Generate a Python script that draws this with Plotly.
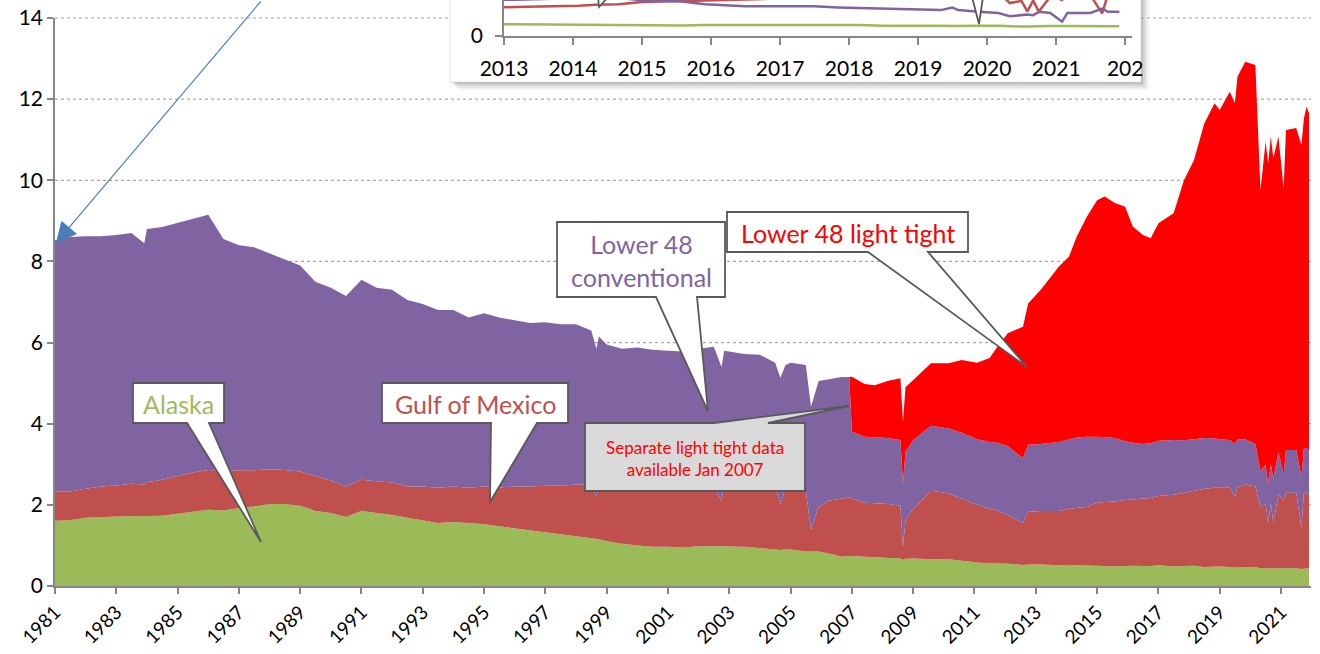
import plotly.graph_objects as go

# ---- data: crude oil production, million barrels per day ----
dates = [
    "1981-01", "1981-07", "1982-01", "1982-07", "1983-01", "1983-07", "1983-12", "1984-01",
    "1984-07", "1985-01", "1985-07", "1986-01", "1986-07", "1987-01", "1987-07", "1988-01",
    "1988-07", "1989-01", "1989-07", "1990-01", "1990-07", "1991-01", "1991-07", "1992-01",
    "1992-07", "1993-01", "1993-07", "1994-01", "1994-07", "1995-01", "1995-07", "1996-01",
    "1996-07", "1997-01", "1997-07", "1998-01", "1998-07", "1998-09", "1998-10", "1999-01",
    "1999-07", "2000-01", "2000-07", "2001-01", "2001-07", "2002-01", "2002-07", "2002-10",
    "2002-11", "2003-07", "2004-01", "2004-07", "2004-09", "2004-11", "2005-01", "2005-07",
    "2005-09", "2005-12", "2006-04", "2006-09", "2006-12",
    "2007-01", "2007-06", "2007-10", "2008-03", "2008-08", "2008-09", "2008-10", "2009-01",
    "2009-08", "2010-03", "2010-08", "2011-02", "2011-07", "2011-10", "2012-02", "2012-08",
    "2012-10", "2013-03", "2013-10", "2014-02", "2014-05", "2014-09", "2015-01", "2015-04",
    "2015-08", "2015-12", "2016-03", "2016-07", "2016-10", "2017-01", "2017-07", "2017-11",
    "2018-03", "2018-07", "2018-11", "2019-01", "2019-05", "2019-07", "2019-08", "2019-11",
    "2020-03", "2020-05", "2020-07", "2020-08", "2020-09", "2020-10", "2020-12", "2021-02",
    "2021-03", "2021-07", "2021-09", "2021-10", "2021-11", "2021-12",
]

alaska = [
    1.61, 1.62, 1.68, 1.70, 1.71, 1.72, 1.72, 1.72,
    1.73, 1.78, 1.83, 1.88, 1.86, 1.92, 1.96, 2.02,
    2.02, 1.98, 1.85, 1.80, 1.70, 1.85, 1.80, 1.75,
    1.68, 1.62, 1.55, 1.58, 1.55, 1.52, 1.47, 1.42,
    1.37, 1.32, 1.28, 1.22, 1.17, 1.16, 1.15, 1.10,
    1.04, 1.00, 0.97, 0.97, 0.95, 0.98, 0.97, 0.97,
    0.98, 0.97, 0.93, 0.90, 0.89, 0.90, 0.90, 0.85,
    0.85, 0.85, 0.80, 0.72, 0.74,
    0.74, 0.72, 0.71, 0.70, 0.68, 0.64, 0.67, 0.68,
    0.66, 0.66, 0.62, 0.58, 0.56, 0.56, 0.55, 0.52,
    0.53, 0.53, 0.51, 0.52, 0.51, 0.50, 0.50, 0.49,
    0.48, 0.50, 0.50, 0.49, 0.49, 0.51, 0.48, 0.49,
    0.50, 0.47, 0.48, 0.48, 0.47, 0.45, 0.46, 0.47,
    0.47, 0.44, 0.43, 0.43, 0.44, 0.44, 0.45, 0.45,
    0.45, 0.44, 0.42, 0.43, 0.44, 0.44,
]

gulf_of_mexico = [
    0.71, 0.71, 0.72, 0.75, 0.77, 0.80, 0.78, 0.84,
    0.89, 0.94, 0.97, 0.98, 0.98, 0.93, 0.89, 0.86,
    0.84, 0.84, 0.87, 0.80, 0.75, 0.77, 0.78, 0.80,
    0.77, 0.83, 0.87, 0.87, 0.87, 0.93, 0.96, 1.03,
    1.08, 1.15, 1.19, 1.28, 1.33, 1.04, 1.33, 1.35,
    1.38, 1.45, 1.51, 1.53, 1.55, 1.52, 1.51, 1.13,
    1.50, 1.48, 1.52, 1.52, 1.13, 1.50, 1.52, 1.50,
    0.53, 1.10, 1.30, 1.43, 1.44,
    1.41, 1.33, 1.33, 1.32, 1.30, 0.33, 0.95, 1.22,
    1.69, 1.62, 1.53, 1.42, 1.34, 1.30, 1.20, 1.03,
    1.30, 1.32, 1.34, 1.38, 1.42, 1.45, 1.55, 1.58,
    1.60, 1.62, 1.63, 1.66, 1.68, 1.71, 1.77, 1.80,
    1.85, 1.93, 1.94, 1.94, 1.95, 1.75, 1.98, 2.03,
    1.98, 1.50, 1.60, 1.12, 1.61, 1.11, 1.80, 1.65,
    1.85, 1.86, 1.03, 1.87, 1.86, 1.80,
]

# all of the Lower 48 before 2007, conventional only from Jan 2007
lower48_conventional = [
    6.20, 6.27, 6.22, 6.17, 6.17, 6.18, 5.95, 6.24,
    6.23, 6.23, 6.25, 6.29, 5.71, 5.55, 5.50, 5.32,
    5.19, 5.08, 4.78, 4.75, 4.70, 4.93, 4.77, 4.75,
    4.60, 4.50, 4.38, 4.35, 4.20, 4.27, 4.19, 4.10,
    4.03, 4.03, 3.98, 3.95, 3.80, 3.65, 3.67, 3.50,
    3.43, 3.43, 3.34, 3.30, 3.28, 3.35, 3.42, 3.30,
    3.32, 3.27, 3.25, 3.08, 3.11, 3.05, 3.08, 3.10,
    3.04, 3.10, 3.00, 3.00, 2.97,
    1.65, 1.63, 1.63, 1.63, 1.62, 1.56, 1.68, 1.70,
    1.60, 1.60, 1.63, 1.62, 1.65, 1.67, 1.70, 1.60,
    1.65, 1.65, 1.70, 1.72, 1.73, 1.73, 1.63, 1.60,
    1.57, 1.45, 1.40, 1.35, 1.35, 1.36, 1.35, 1.30,
    1.27, 1.25, 1.22, 1.20, 1.18, 1.30, 1.18, 1.12,
    1.05, 0.90, 0.95, 0.98, 0.95, 1.10, 1.05, 0.65,
    1.05, 1.05, 1.25, 1.10, 1.10, 1.10,
]

# separate light tight data starts Jan 2007
lower48_light_tight = [
    1.36, 1.30, 1.28, 1.40, 1.52, 1.52, 1.60, 1.48,
    1.54, 1.61, 1.79, 1.88, 2.07, 2.37, 2.78, 3.24,
    3.48, 3.80, 4.32, 4.50, 4.94, 5.42, 5.83, 5.93,
    5.79, 5.78, 5.33, 5.15, 5.05, 5.36, 5.59, 6.41,
    6.88, 7.75, 8.26, 8.11, 8.58, 8.40, 8.93, 9.30,
    9.34, 6.92, 7.97, 7.89, 8.08, 7.90, 7.78, 7.05,
    7.89, 7.94, 8.17, 8.13, 8.41, 8.31,
]
tight_dates = dates[-len(lower48_light_tight):]

y_ticks = [0, 2, 4, 6, 8, 10, 12, 14]
inset_years = [2013, 2014, 2015, 2016, 2017, 2018, 2019, 2020, 2021, 2022]
inset_tick_labels = ["2013", "2014", "2015", "2016", "2017", "2018", "2019", "2020", "2021", "202"]

COLORS = ["#9BBB59", "#C0504D", "#8064A2", "#FF0000"]
NAMES = ["Alaska", "Gulf of Mexico", "Lower 48 conventional", "Lower 48 light tight"]
FONT = "Lato, 'Open Sans', sans-serif"
AXIS_GREY = "#868686"
EDGE = "#595959"

# page geometry (pixels) -> paper coords
W, H = 1320, 654
ML, MR, MT, MB = 55, 9, 0, 68
PW, PH = W - ML - MR, H - MT - MB


def px(x, y):
    return (x - ML) / PW, (H - MB - y) / PH


def path(points):
    s = ""
    for i, (x, y) in enumerate(points):
        X, Y = px(x, y)
        s += ("M" if i == 0 else "L") + f"{X:.5f},{Y:.5f} "
    return s + "Z"


ytop = px(0, 18)[1]

fig = go.Figure()

series = [alaska, gulf_of_mexico, lower48_conventional, lower48_light_tight]
xs_list = [dates, dates, dates, tight_dates]

# main stacked areas
for name, vals, xs, col in zip(NAMES, series, xs_list, COLORS):
    fig.add_trace(go.Scatter(
        x=xs, y=vals, name=name, mode="lines", stackgroup="prod",
        stackgaps="infer zero", line=dict(width=0, color=col), fillcolor=col,
        showlegend=False,
    ))

# inset lines (not stacked)
for name, vals, xs, col in zip(NAMES, series, xs_list, COLORS):
    fig.add_trace(go.Scatter(
        x=xs, y=vals, name=name, mode="lines", xaxis="x2", yaxis="y2",
        line=dict(width=2.5, color=col), showlegend=False,
    ))

shapes = []
# inset box with soft shadow
for off, op in [(8, 0.04), (6, 0.06), (4, 0.08), (2, 0.10)]:
    x0, y0 = px(450 + off, -30)
    x1, y1 = px(1141 + off, 82 + off)
    shapes.append(dict(type="rect", xref="paper", yref="paper", x0=x0, x1=x1, y0=y0, y1=y1,
                       fillcolor=f"rgba(0,0,0,{op})", line=dict(width=0), layer="below"))
x0, y0 = px(450, -30)
x1, y1 = px(1141, 82)
shapes.append(dict(type="rect", xref="paper", yref="paper", x0=x0, x1=x1, y0=y0, y1=y1,
                   fillcolor="white", line=dict(width=0.6, color="#D0D0D0"), layer="below"))

# dotted gridlines
for v in y_ticks[1:]:
    yy = v / 14 * ytop
    segs = [(0, 1)]
    if v == 14:
        segs = [(0, px(450, 0)[0]), (px(1141, 0)[0], 1)]
    for a, b in segs:
        shapes.append(dict(type="line", xref="paper", yref="paper", x0=a, x1=b, y0=yy, y1=yy,
                           line=dict(color="#A6A6A6", width=1.2, dash="dot"), layer="below"))

# callout bubbles
callouts = [
    ([(133, 383), (224, 383), (224, 423), (209, 423), (261, 542), (187, 423), (133, 423)], "white"),
    ([(382, 383), (568, 383), (568, 423), (537, 423), (490, 502), (491, 423), (382, 423)], "white"),
    ([(557, 222), (725, 222), (725, 297), (697, 297), (708, 411), (656, 297), (557, 297)], "white"),
    ([(727, 212), (968, 212), (968, 252), (928, 252), (1027, 367), (868, 252), (727, 252)], "white"),
    ([(585, 423), (714, 423), (849, 406), (768, 423), (805, 423), (805, 491), (585, 491)], "#D9D9D9"),
    ([(598, -3), (599, 7), (608, -3)], "white"),
    ([(972, -3), (979, 24), (983, -3)], "white"),
]
for pts, fill in callouts:
    shapes.append(dict(type="path", xref="paper", yref="paper", path=path(pts),
                       fillcolor=fill, line=dict(color=EDGE, width=1.8), layer="above"))

annotations = []
labels = [
    ("Alaska", 178, 404, COLORS[0], 25),
    ("Gulf of Mexico", 475, 404, COLORS[1], 25),
    ("Lower 48<br>conventional", 641, 260, COLORS[2], 25),
    ("Lower 48 light tight", 848, 233, "#FF0000", 25),
    ("Separate light tight data<br>available Jan 2007", 695, 458, "#FF0000", 17),
]
for text, x, y, col, size in labels:
    X, Y = px(x, y)
    annotations.append(dict(xref="paper", yref="paper", x=X, y=Y, text=text, showarrow=False,
                            xanchor="center", yanchor="middle",
                            font=dict(family=FONT, size=size, color=col), align="center"))

# blue arrow from the (off-page) note to the 1981 start
tx, ty = px(56, 243)
annotations.append(dict(xref="paper", yref="paper", x=tx, y=ty, ax=206, ay=-243, text="",
                        showarrow=True, arrowhead=2, arrowsize=3.4, arrowwidth=1.2,
                        arrowcolor="#4A7EBB"))

tick_font = dict(family=FONT, size=21, color="black")

fig.update_layout(
    width=W, height=H,
    margin=dict(l=ML, r=MR, t=MT, b=MB, autoexpand=False),
    paper_bgcolor="white", plot_bgcolor="rgba(0,0,0,0)",
    font=dict(family=FONT),
    showlegend=False,
    shapes=shapes, annotations=annotations,
    xaxis=dict(
        type="date", range=["1981-01-01", "2021-12-24"], domain=[0, 1],
        tickmode="linear", tick0="1981-01-01", dtick="M24", tickformat="%Y", tickangle=-45,
        ticks="outside", ticklen=6, tickwidth=1.5, tickcolor=AXIS_GREY,
        showline=True, linecolor=AXIS_GREY, linewidth=1.5, showgrid=False, zeroline=False,
        tickfont=dict(family=FONT, size=19, color="black"), automargin=False,
    ),
    yaxis=dict(
        range=[0, 14], domain=[0, ytop], tickvals=y_ticks,
        ticks="outside", ticklen=6, tickwidth=1.5, tickcolor=AXIS_GREY,
        showline=True, linecolor=AXIS_GREY, linewidth=1.5, showgrid=False, zeroline=False,
        tickfont=tick_font, automargin=False,
    ),
    xaxis2=dict(
        type="date", anchor="y2", domain=[px(504, 0)[0], px(1132, 0)[0]],
        range=["2013-01-01", "2022-02-06"],
        tickvals=[f"{y}-01-01" for y in inset_years], ticktext=inset_tick_labels,
        ticks="outside", ticklen=7, tickwidth=1.5, tickcolor=AXIS_GREY, ticklabelstandoff=6,
        showline=True, linecolor=AXIS_GREY, linewidth=1.5, showgrid=False, zeroline=False,
        tickfont=tick_font, automargin=False,
    ),
    yaxis2=dict(
        anchor="x2", domain=[px(0, 36)[1], 1], range=[0, 1.64], tickvals=[0], ticktext=["0"],
        ticks="outside", ticklen=7, tickwidth=1.5, tickcolor=AXIS_GREY, ticklabelstandoff=8,
        showline=True, linecolor=AXIS_GREY, linewidth=1.5, showgrid=False, zeroline=False,
        tickfont=tick_font, automargin=False,
    ),
)

# the page's default body margin would shift the figure by 8px
fig.write_html("out.html", config={"displayModeBar": False},
               post_script="document.body.style.margin='0';")
